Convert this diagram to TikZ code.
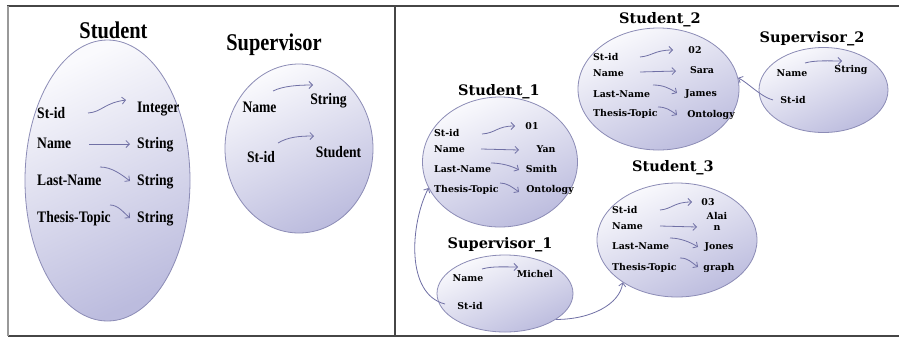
\documentclass[tikz,border=0pt]{standalone}
\usepackage{fontspec}
\usetikzlibrary{shapes.geometric,arrows.meta}
\newfontfamily\lfont[FakeStretch=0.85]{Liberation Serif}
\newfontfamily\rfont{DejaVu Serif}
\definecolor{ellborder}{RGB}{140,140,182}
\definecolor{elldark}{RGB}{188,188,222}
\definecolor{elllight}{RGB}{250,250,253}
\definecolor{arrowc}{RGB}{112,112,165}
\definecolor{framec}{RGB}{70,70,70}
\begin{document}
\begin{tikzpicture}[x=1pt,y=-1pt,
  ell/.style={ellipse, draw=ellborder, line width=0.8pt, inner sep=0pt,
    top color=elllight, bottom color=elldark, shading angle=25},
  ltitle/.style={font=\lfont\bfseries\fontsize{24}{26}\selectfont, inner sep=0pt},
  litem/.style={font=\lfont\bfseries\fontsize{16}{18}\selectfont, inner sep=0pt, text height=10.5pt, text depth=0pt},
  rtitle/.style={font=\rfont\bfseries\fontsize{14.5}{16}\selectfont, inner sep=0pt},
  ritem/.style={font=\rfont\bfseries\fontsize{9.4}{11}\selectfont, inner sep=0pt, text height=6.8pt, text depth=0pt},
  arr/.style={draw=arrowc, line width=0.8pt, -{Straight Barb[length=3.5pt,width=7pt]}},
  frame/.style={draw=framec, line width=1.5pt}
]
\fill[white] (0,0) rectangle (899,338);
\useasboundingbox (0,0) rectangle (899,338);
% frame
\draw[frame] (7,6) -- (899,6);
\draw[frame] (8,336) -- (899,336);
\draw[frame] (395,6) -- (395,336);
\draw[draw=gray!80, line width=1.5pt] (8,6) -- (8,336);

% ===== left panel =====
\node[ell, minimum width=165pt, minimum height=281pt] (stu) at (107.5,180.5) {};
\node[ell, minimum width=148pt, minimum height=169pt] (sup) at (299,148.5) {};
\node[ltitle] (stut) at (113.5,30) {Student};
\node[ltitle] (supt) at (274,45) {Supervisor};

\node[litem, anchor=west] (a1) at (37,113) {St-id};
\node[litem, anchor=west] (a2) at (37,143) {Name};
\node[litem, anchor=west] (a3) at (37,180) {Last-Name};
\node[litem, anchor=west] (a4) at (37,217) {Thesis-Topic};
\node[litem, anchor=west] (b1) at (137,107) {Integer};
\node[litem, anchor=west] (b2) at (137,143) {String};
\node[litem, anchor=west] (b3) at (137,180) {String};
\node[litem, anchor=west] (b4) at (137,217) {String};

\draw[arr] ([shift={(51,0)}]a1.west) .. controls +(14,-1) and +(-22,3) .. ([shift={(-11,-7)}]b1.west);
\draw[arr] ([shift={(52,1)}]a2.west) -- ([shift={(-7,1)}]b2.west);
\draw[arr] ([shift={(63,-13)}]a3.west) .. controls +(12,0) and +(-8,-6) .. ([shift={(-7,1)}]b3.west);
\draw[arr] ([shift={(73,-12)}]a4.west) .. controls +(8,0) and +(-7,-6) .. ([shift={(-7,1)}]b4.west);

\node[litem] (c1) at (259.5,107) {Name};
\node[litem] (d1) at (328.5,99) {String};
\node[litem] (c2) at (261,157) {St-id};
\node[litem] (d2) at (338.5,152) {Student};
\draw[arr] ([shift={(13.5,-16)}]c1.center) .. controls +(10,-5) and +(-15,0) .. ([shift={(-15.5,-14)}]d1.center);
\draw[arr] ([shift={(17,-14)}]c2.center) .. controls +(10,-6) and +(-15,0) .. ([shift={(-24.5,-16)}]d2.center);

% ===== right panel =====
% Student_1
\node[ell, minimum width=155pt, minimum height=130pt] (s1) at (500,162) {};
\node[rtitle] (s1t) at (499,92) {Student\_1};
\node[ritem, anchor=west] (e1) at (434,133) {St-id};
\node[ritem, anchor=west] (e2) at (434,149) {Name};
\node[ritem, anchor=west] (e3) at (434,169) {Last-Name};
\node[ritem, anchor=west] (e4) at (434,189) {Thesis-Topic};
\node[ritem] (f1) at (532,126) {01};
\node[ritem] (f2) at (546,149) {Yan};
\node[ritem] (f3) at (541.5,169) {Smith};
\node[ritem] (f4) at (550,189) {Ontology};
\draw[arr] ([shift={(48,1)}]e1.west) .. controls +(14,-1) and +(-18,0) .. ([shift={(-17,0)}]f1.center);
\draw[arr] ([shift={(47,0)}]e2.west) -- ([shift={(-27,1)}]f2.center);
\draw[arr] ([shift={(57,-6)}]e3.west) .. controls +(10,0) and +(-7,-4) .. ([shift={(-22.5,1)}]f3.center);
\draw[arr] ([shift={(66,-6)}]e4.west) .. controls +(7,0) and +(-7,-5) .. ([shift={(-31,3)}]f4.center);

% Student_2
\node[ell, minimum width=161pt, minimum height=122pt] (s2) at (658.5,89) {};
\node[rtitle] (s2t) at (660,20) {Student\_2};
\node[ritem, anchor=west] (g1) at (593,57) {St-id};
\node[ritem, anchor=west] (g2) at (593,73) {Name};
\node[ritem, anchor=west] (g3) at (593,94) {Last-Name};
\node[ritem, anchor=west] (g4) at (593,113) {Thesis-Topic};
\node[ritem] (h1) at (695,50) {02};
\node[ritem] (h2) at (702,70) {Sara};
\node[ritem] (h3) at (701,93) {James};
\node[ritem] (h4) at (711,114) {Ontology};
\draw[arr] ([shift={(47,0)}]g1.west) .. controls +(12,-1) and +(-18,0) .. ([shift={(-22,0)}]h1.center);
\draw[arr] ([shift={(47,-1)}]g2.west) -- ([shift={(-26,1)}]h2.center);
\draw[arr] ([shift={(60,-9)}]g3.west) .. controls +(10,0) and +(-8,-5) .. ([shift={(-24,0)}]h3.center);
\draw[arr] ([shift={(65,-6)}]g4.west) .. controls +(8,0) and +(-7,-5) .. ([shift={(-34,1)}]h4.center);

% Supervisor_2
\node[ell, minimum width=129pt, minimum height=85pt] (t2) at (823.5,90) {};
\node[rtitle] (t2t) at (812,39) {Supervisor\_2};
\node[ritem] (i1) at (792,73) {Name};
\node[ritem] (j1) at (851,69) {String};
\node[ritem] (i2) at (793,100) {St-id};
\draw[arr] ([shift={(13,-10)}]i1.center) .. controls +(10,-3) and +(-12,0) .. ([shift={(-9,-8)}]j1.center);
\draw[arr] ([shift={(-20,0)}]i2.center) .. controls +(-12,-3) and +(10,5) .. (s2.8);

% Student_3
\node[ell, minimum width=160pt, minimum height=114pt] (s3) at (677,240) {};
\node[rtitle] (s3t) at (673,168) {Student\_3};
\node[ritem, anchor=west] (k1) at (612,210) {St-id};
\node[ritem, anchor=west] (k2) at (612,226) {Name};
\node[ritem, anchor=west] (k3) at (612,246) {Last-Name};
\node[ritem, anchor=west] (k4) at (612,267) {Thesis-Topic};
\node[ritem] (l1) at (708,202) {03};
\node[ritem, align=center] (l2) at (717,227.5) {Alai\\n};
\node[ritem] (l3) at (719,246) {Jones};
\node[ritem] (l4) at (719,267) {graph};
\draw[arr] ([shift={(48,0)}]k1.west) .. controls +(12,-1) and +(-18,0) .. ([shift={(-16,0)}]l1.center);
\draw[arr] ([shift={(48,0)}]k2.west) -- ([shift={(-20,-0.5)}]l2.center);
\draw[arr] ([shift={(58,-8)}]k3.west) .. controls +(10,0) and +(-8,-5) .. ([shift={(-21,1)}]l3.center);
\draw[arr] ([shift={(68,-9)}]k4.west) .. controls +(8,0) and +(-7,-5) .. ([shift={(-21,0)}]l4.center);

% Supervisor_1
\node[ell, minimum width=136pt, minimum height=77pt] (t1) at (505,293.5) {};
\node[rtitle] (t1t) at (500,245) {Supervisor\_1};
\node[ritem] (m1) at (468,278) {Name};
\node[ritem] (n1) at (535,274) {Michel};
\node[ritem] (m2) at (470,306) {St-id};
\draw[arr] ([shift={(14,-9)}]m1.center) .. controls +(10,-3) and +(-12,0) .. ([shift={(-17,-7)}]n1.center);
\draw[arr] ([shift={(-25,-2)}]m2.center) .. controls +(-40,-10) and +(-18,35) .. (s1.200);
\draw[arr] (t1.-27) .. controls +(35,0) and +(-3,22) .. (s3.218);
\end{tikzpicture}
\end{document}
